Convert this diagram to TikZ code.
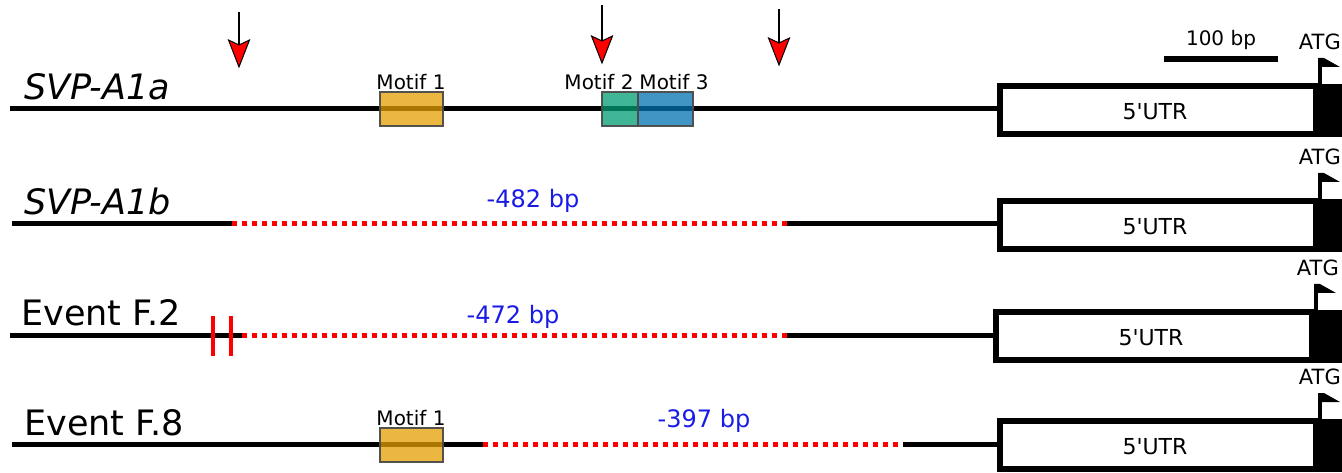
\documentclass[tikz,border=0pt]{standalone}
\usepackage{fontspec}
\setmainfont{DejaVu Sans}
\usetikzlibrary{calc}
\definecolor{motifA}{HTML}{E69F00}
\definecolor{motifB}{HTML}{009E73}
\definecolor{motifC}{HTML}{0072B2}
\definecolor{gapblue}{HTML}{1A1AE6}
\newcommand\pxfont[1]{\fontsize{#1}{#1}\selectfont}
\tikzset{
  dna/.style={line width=5pt, black},
  gapline/.style={line width=5pt, red, dash pattern=on 5pt off 5pt},
  utrbox/.style={draw=black, line width=6.5pt, fill=white},
  motifbox/.style={draw=black!70, draw opacity=0.8, line width=2pt, fill opacity=0.75},
  motiflabel/.style={inner sep=0pt, font=\pxfont{20}},
  rowlabel/.style={inner sep=0pt, anchor=west, font=\pxfont{35}},
  gaplabel/.style={inner sep=0pt, text=gapblue, font=\pxfont{24}},
  smalltext/.style={inner sep=0pt, font=\pxfont{20}},
}
% 5'UTR box, coding start and ATG flag of one row: #1 row id, #2 line y, #3 x offset
\newcommand\utrend[3]{%
  \draw[utrbox] ({1000+#3},{#2-23}) rectangle ({1316+#3},{#2+25});
  \node[smalltext, font=\pxfont{22}] (utr#1) at ({1155+#3},{#2+3}) {5\textquotesingle UTR};
  \fill[black] ({1319+#3},{#2-25.3}) rectangle (1346,{#2+28.3});
  \draw[black, line width=3.5pt] ({1320+#3},{#2-23}) -- ({1320+#3},{#2-51});
  \fill[black] ({1318.3+#3},{#2-51}) -- ({1324+#3},{#2-51}) -- ({1340+#3},{#2-42}) -- ({1318.3+#3},{#2-42}) -- cycle;
  \node[smalltext, font=\pxfont{21}, anchor=east] (atg#1) at ({1341+#3/2},{#2-67}) {ATG};
}
% cut-site arrow: #1 id, #2 x, #3 top y, #4 tip y
\newcommand\cutarrow[4]{%
  \coordinate (#1top) at (#2,#3);
  \coordinate (#1tip) at (#2,#4);
  \draw[black, line width=2.5pt] (#1top) -- ($(#1tip)+(0,-21)$);
  \filldraw[fill=red, draw=black, line width=1pt, line join=miter]
    (#1tip) -- ++(-10.5,-27) -- ++(10.5,5) -- ++(10.5,-5) -- cycle;
}
\begin{document}
\begin{tikzpicture}[x=1pt, y=-1pt]
\useasboundingbox (0,0) rectangle (1342,473);

% scale bar
\coordinate (barL) at (1164,59);
\coordinate (barR) at (1278,59);
\draw[black, line width=6pt] (barL) -- (barR);
\node[smalltext] (bartext) at (1221,40) {100 bp};

% cut sites
\cutarrow{cutA}{239}{12}{67}
\cutarrow{cutB}{602}{5}{63}
\cutarrow{cutC}{779}{9}{65}

% row 1: SVP-A1a
\node[rowlabel] (lab1) at (24,87) {\itshape SVP-A1a};
\coordinate (r1s) at (10,109);
\coordinate (r1e) at (998,109);
\draw[dna] (r1s) -- (r1e);
\fill[motifbox, fill=motifA] (380,92) rectangle (443,126);
\fill[motifbox, fill=motifB] (602,92) rectangle (638,126);
\fill[motifbox, fill=motifC] (638,92) rectangle (693,126);
\draw[motifbox] (380,92) rectangle (443,126);
\draw[motifbox] (602,92) rectangle (638,126);
\draw[motifbox] (638,92) rectangle (693,126);
\node[motiflabel] (m1a) at (411,82) {Motif 1};
\node[motiflabel] (m2a) at (599,82) {Motif 2};
\node[motiflabel] (m3a) at (674,82) {Motif 3};
\utrend{1}{109}{0}

% row 2: SVP-A1b
\node[rowlabel] (lab2) at (24,201) {\itshape SVP-A1b};
\coordinate (r2s) at (12,224);
\coordinate (r2a) at (232,224);
\coordinate (r2b) at (787,224);
\coordinate (r2e) at (998,224);
\draw[dna] (r2s) -- (r2a);
\draw[gapline] (r2a) -- (r2b);
\draw[dna] (r2b) -- (r2e);
\node[gaplabel] (gap2) at (533,201) {-482 bp};
\utrend{2}{224}{0}

% row 3: Event F.2
\node[rowlabel] (lab3) at (21,313) {Event F.2};
\coordinate (r3s) at (10,335);
\coordinate (r3a) at (242,335);
\coordinate (r3b) at (787,335);
\coordinate (r3e) at (995,335);
\draw[dna] (r3s) -- (r3a);
\draw[gapline] (r3a) -- (r3b);
\draw[dna] (r3b) -- (r3e);
\draw[red, line width=4pt] (213,316) -- (213,356);
\draw[red, line width=4pt] (231,316) -- (231,356);
\node[gaplabel] (gap3) at (513,317) {-472 bp};
\utrend{3}{335}{-4}

% row 4: Event F.8
\node[rowlabel] (lab4) at (24,423) {Event F.8};
\coordinate (r4s) at (12,444);
\coordinate (r4a) at (483,444);
\coordinate (r4b) at (903,444);
\coordinate (r4e) at (998,444);
\draw[dna] (r4s) -- (r4a);
\draw[gapline] (r4a) -- (r4b);
\draw[dna] (r4b) -- (r4e);
\fill[motifbox, fill=motifA] (380,428) rectangle (443,462);
\draw[motifbox] (380,428) rectangle (443,462);
\node[motiflabel] (m1d) at (411,418) {Motif 1};
\node[gaplabel] (gap4) at (704,421) {-397 bp};
\utrend{4}{444}{0}
\end{tikzpicture}
\end{document}
